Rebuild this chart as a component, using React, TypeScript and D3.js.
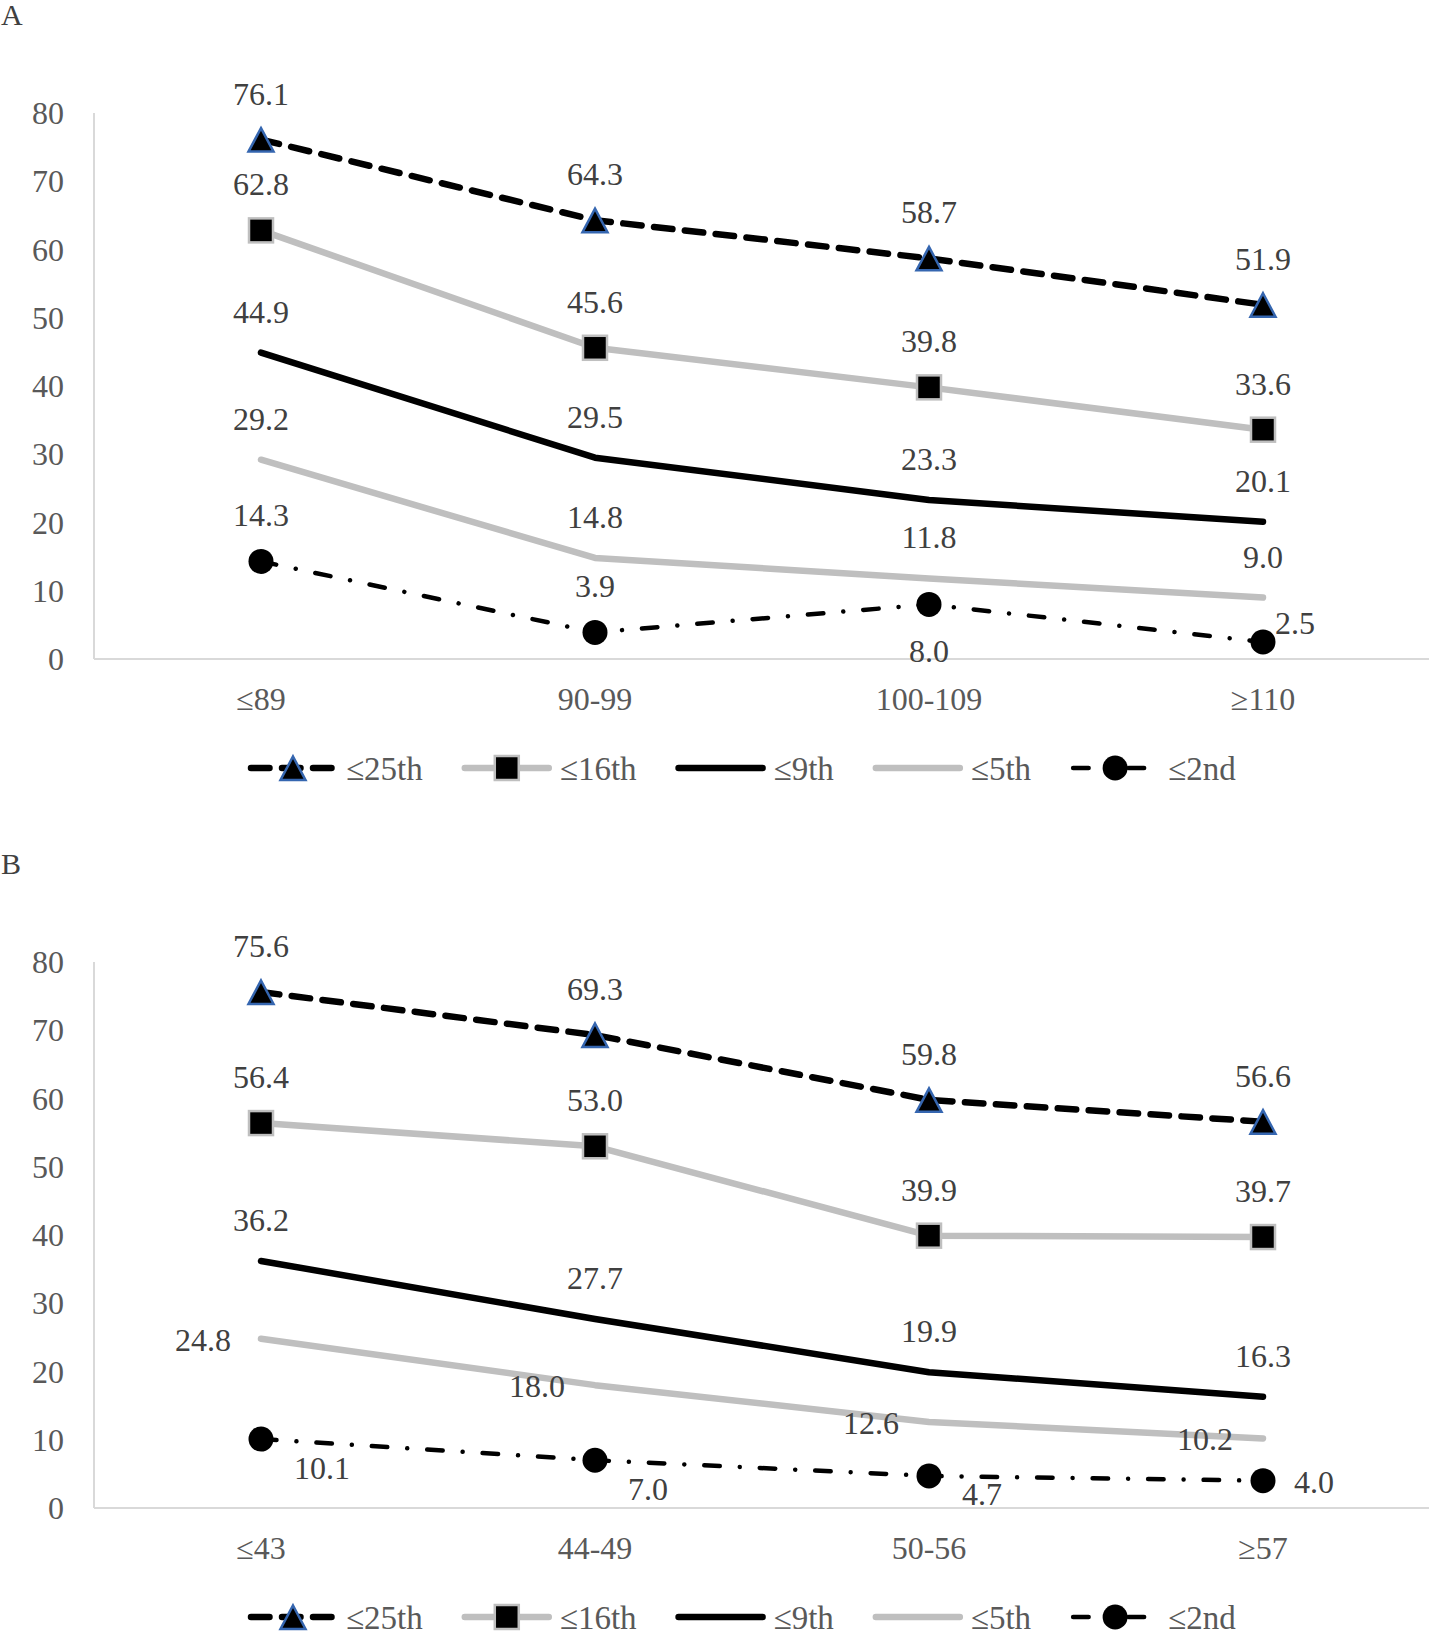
import React from "react";
import * as d3 from "d3";

// series names shared by both panels
const seriesNames = ["≤25th", "≤16th", "≤9th", "≤5th", "≤2nd"];

// panel A categories and values
const catsA = ["≤89", "90-99", "100-109", "≥110"];
const a25 = [76.1, 64.3, 58.7, 51.9];
const a16 = [62.8, 45.6, 39.8, 33.6];
const a9 = [44.9, 29.5, 23.3, 20.1];
const a5 = [29.2, 14.8, 11.8, 9.0];
const a2 = [14.3, 3.9, 8.0, 2.5];

// panel B categories and values
const catsB = ["≤43", "44-49", "50-56", "≥57"];
const b25 = [75.6, 69.3, 59.8, 56.6];
const b16 = [56.4, 53.0, 39.9, 39.7];
const b9 = [36.2, 27.7, 19.9, 16.3];
const b5 = [24.8, 18.0, 12.6, 10.2];
const b2 = [10.1, 7.0, 4.7, 4.0];

const yMax = 80;

type Marker = "triangle" | "square" | "circle" | "none";
type Place = "above" | "below" | "left" | "right" | "belowRight" | "upperRight";

interface SeriesStyle {
  color: string;
  width: number;
  dash?: string;
  marker: Marker;
}

const styles: SeriesStyle[] = [
  { color: "#000", width: 6.5, dash: "18.5 12.5", marker: "triangle" },
  { color: "#bfbfbf", width: 6.5, marker: "square" },
  { color: "#000", width: 6.5, marker: "none" },
  { color: "#bfbfbf", width: 6.5, marker: "none" },
  { color: "#000", width: 4.5, dash: "15.5 20 0.01 20", marker: "circle" },
];

const FONT = "'Liberation Serif', 'Times New Roman', serif";
const W = 1429;
const H = 1633;

const plotLeft = 94;
const plotRight = 1430;
const plotH = 546;

const drawMarker = (m: Marker, x: number, y: number, key: string) => {
  if (m === "triangle") {
    const p = `M${x},${y - 11.5}L${x + 12.5},${y + 12}L${x - 12.5},${y + 12}Z`;
    return <path key={key} d={p} fill="#000" stroke="#3566b0" strokeWidth={2.5} strokeLinejoin="miter" />;
  }
  if (m === "square") {
    return <rect key={key} x={x - 12} y={y - 12} width={24} height={24} fill="#000" stroke="#bfbfbf" strokeWidth={2.5} />;
  }
  if (m === "circle") {
    return <circle key={key} cx={x} cy={y} r={12.5} fill="#000" />;
  }
  return null;
};

const labelProps = (place: Place, x: number, y: number, marker: Marker, y0: number) => {
  switch (place) {
    case "below":
      return { x, y: y + 58, anchor: "middle" };
    case "left":
      return { x: x - 30, y: y + 12, anchor: "end" };
    case "right":
      return { x: x + 31, y: y + 12, anchor: "start" };
    case "belowRight":
      // kept inside the plot, like the original
      return { x: x + 33, y: Math.min(y + 40, y0 - 3), anchor: "start" };
    case "upperRight":
      return { x: x + 12, y: y - 8, anchor: "start" };
    default:
      return { x, y: y - (marker === "none" ? 30 : 35), anchor: "middle" };
  }
};

function textWidth(s: string, size: number) {
  const c = document.createElement("canvas").getContext("2d");
  if (!c) return s.length * size * 0.5;
  c.font = `${size}px 'Liberation Serif'`;
  return c.measureText(s).width;
}

const Panel: React.FC<{
  letter: string;
  top: number;
  cats: string[];
  values: number[][];
  places: Place[][];
}> = ({ letter, top, cats, values, places }) => {
  const y0 = top + plotH;
  const x = d3.scaleBand<string>().domain(cats).range([plotLeft, plotRight]).paddingInner(0).paddingOuter(0);
  const y = d3.scaleLinear().domain([0, yMax]).range([y0, top]);
  const cx = (c: string) => (x(c) ?? 0) + x.bandwidth() / 2;
  const line = d3
    .line<number>()
    .x((_, i) => cx(cats[i]))
    .y((d) => y(d));

  // legend layout: 90px symbol, 8px gap, text, 39px spacing
  let lx = 248;
  const legendY = y0 + 109;
  const legend = seriesNames.map((name, i) => {
    const st = styles[i];
    const start = lx;
    lx += 98 + textWidth(name, 33) + 39;
    return (
      <g key={name}>
        <line
          x1={start + 3}
          x2={start + 87}
          y1={legendY}
          y2={legendY}
          stroke={st.color}
          strokeWidth={st.width}
          strokeDasharray={st.dash}
          strokeLinecap="round"
        />
        {drawMarker(st.marker, start + 45, legendY, "m")}
        <text x={start + 98} y={legendY + 12} fontSize={33} fill="#595959">
          {name}
        </text>
      </g>
    );
  });

  return (
    <g fontFamily={FONT}>
      <text x={1} y={top - 88} fontSize={30} fill="#404040">
        {letter}
      </text>

      {/* axes */}
      <line x1={plotLeft} x2={plotLeft} y1={top} y2={y0} stroke="#d9d9d9" strokeWidth={2} />
      <line x1={plotLeft} x2={W} y1={y0} y2={y0} stroke="#d9d9d9" strokeWidth={2} />
      {y.ticks(8).map((t) => (
        <text key={t} x={64} y={y(t) + 11} textAnchor="end" fontSize={32} fill="#595959">
          {t}
        </text>
      ))}
      {cats.map((c) => (
        <text key={c} x={cx(c)} y={y0 + 51} textAnchor="middle" fontSize={32} fill="#595959">
          {c}
        </text>
      ))}

      {/* series */}
      {values.map((vals, si) => {
        const st = styles[si];
        return (
          <g key={si}>
            <path
              d={line(vals) ?? ""}
              fill="none"
              stroke={st.color}
              strokeWidth={st.width}
              strokeDasharray={st.dash}
              strokeLinecap="round"
              strokeLinejoin="round"
            />
            {vals.map((v, i) => drawMarker(st.marker, cx(cats[i]), y(v), `m${i}`))}
          </g>
        );
      })}

      {/* data labels */}
      {values.map((vals, si) =>
        vals.map((v, i) => {
          const lp = labelProps(places[si][i], cx(cats[i]), y(v), styles[si].marker, y0);
          return (
            <text
              key={`${si}-${i}`}
              x={lp.x}
              y={lp.y}
              textAnchor={lp.anchor as any}
              fontSize={32}
              fill="#404040"
            >
              {v.toFixed(1)}
            </text>
          );
        })
      )}

      {legend}
    </g>
  );
};

const up: Place[] = ["above", "above", "above", "above"];

export default function App() {
  return (
    <svg
      width={W}
      height={H}
      viewBox={`0 0 ${W} ${H}`}
      style={{ position: "absolute", left: 0, top: 0, background: "#fff", display: "block" }}
    >
      <rect width={W} height={H} fill="#fff" />
      <Panel
        letter="A"
        top={113}
        cats={catsA}
        values={[a25, a16, a9, a5, a2]}
        places={[up, up, up, up, ["above", "above", "below", "upperRight"]]}
      />
      <Panel
        letter="B"
        top={962}
        cats={catsB}
        values={[b25, b16, b9, b5, b2]}
        places={[up, up, up, ["left", "left", "left", "left"], ["belowRight", "belowRight", "belowRight", "right"]]}
      />
    </svg>
  );
}
